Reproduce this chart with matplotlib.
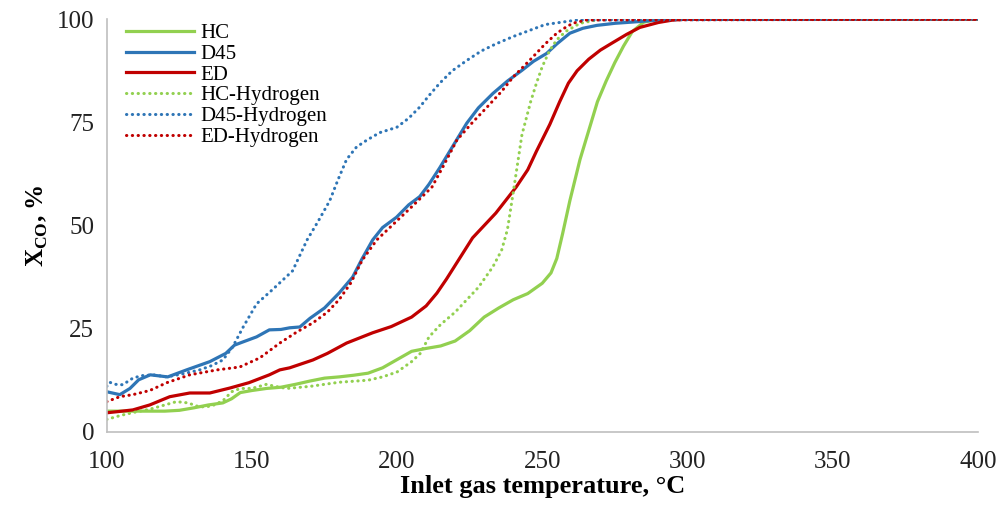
import matplotlib
matplotlib.use("Agg")
import matplotlib.pyplot as plt

plt.rcParams["font.family"] = ["Liberation Serif", "DejaVu Serif"]
plt.rcParams["mathtext.fontset"] = "custom"
plt.rcParams["mathtext.rm"] = "Liberation Serif"
plt.rcParams["mathtext.bf"] = "Liberation Serif:bold"

# ─── Data ────────────────────────────────────────────
hc_x = [100, 105, 110, 115, 120, 125, 130, 135, 140, 143, 146, 150, 155, 160, 165, 170, 175,
        180, 185, 190, 195, 200, 205, 210, 215, 220, 225, 230, 235, 240, 245, 250, 253, 255,
        257, 259.5, 263, 266, 269, 272, 275, 278, 281, 285, 290, 300, 400]
hc_y = [5, 5, 5, 5, 5, 5.2, 5.8, 6.5, 7, 8, 9.5, 10, 10.5, 10.8, 11.5, 12.3, 13,
        13.3, 13.7, 14.2, 15.5, 17.5, 19.5, 20.2, 20.8, 22, 24.5, 27.8, 30, 32, 33.5, 36, 38.5, 42,
        48, 56, 66, 73, 80, 85, 89.5, 93.5, 97, 99.3, 100, 100, 100]

d45_x = [100, 104.5, 108, 111, 115, 121, 127.5, 135.5, 141, 144, 147, 151.6, 156, 160, 163,
         166.5, 170, 175, 180, 184.7, 188, 191.6, 195, 199.8, 204, 207.8, 211, 214.7, 219, 224,
         228, 233, 238, 243, 247, 251.5, 255, 259.5, 264, 268.8, 275, 281, 290, 300, 400]
d45_y = [9.7, 9, 10.5, 12.6, 13.8, 13.3, 15, 17, 19, 21, 21.8, 23, 24.7, 24.8, 25.2,
         25.4, 27.5, 30, 33.6, 37.5, 42, 46.5, 49.5, 52, 55, 57, 60, 64, 69, 74.8,
         78.5, 82, 85, 87.6, 89.8, 91.7, 94, 96.6, 97.8, 98.5, 99, 99.3, 99.8, 100, 100]

ed_x = [100, 104, 109, 114.8, 121.7, 128.6, 135.5, 142.4, 149, 156, 159.6, 163, 171, 176,
        182.6, 191.6, 198, 205, 210, 213.7, 217, 220.6, 226, 234, 241, 245, 248, 252.6, 256,
        259, 262, 266, 270, 274, 279, 283.6, 290, 295, 300, 400]
ed_y = [4.6, 4.9, 5.3, 6.5, 8.5, 9.4, 9.4, 10.6, 11.9, 13.8, 15, 15.5, 17.4, 19,
        21.5, 24, 25.5, 27.8, 30.5, 33.6, 37, 41, 47, 53, 59.3, 63.5, 68, 74.5, 80,
        84.5, 87.5, 90.3, 92.5, 94.2, 96.3, 98, 99.2, 99.8, 100, 100]

hc_h_x = [100, 105, 110, 115, 120, 124, 128, 132, 136, 140, 143, 146, 150, 155, 158, 162, 170,
          180, 190, 195, 200, 205, 208, 211, 215, 220, 224, 228, 233, 236, 238, 240, 243, 246,
          248, 250, 252.6, 255, 258, 263, 270, 400]
hc_h_y = [3, 4, 4.8, 5.5, 6.5, 7.3, 7, 6, 6.2, 7.5, 9.7, 10.5, 10.5, 11.5, 11, 10.5, 11,
          12, 12.5, 13.3, 14.5, 17, 19, 23, 26, 29, 32, 35, 40, 44, 49, 58, 72, 80,
          84.5, 88.5, 92.5, 95, 97, 99, 100, 100]

d45_h_x = [100, 101, 103, 105.5, 109, 112, 116, 120.7, 126, 132, 136, 140, 143.4, 147, 151.6,
           157, 164, 169, 172.8, 176.8, 179.6, 182.6, 186, 189.6, 194, 199.9, 204, 207.8, 211,
           214.7, 219, 224, 229, 234, 240, 245.7, 251, 257, 262, 400]
d45_h_y = [11, 12, 11.5, 11.4, 13, 13.6, 13.8, 13.3, 14, 15, 16, 17.4, 20.6, 25.4, 31,
           34.4, 39, 46.5, 51, 56, 61, 66, 69, 70.7, 72.5, 73.8, 76, 78.7, 81.5,
           84.5, 87.5, 90, 92.3, 94, 95.8, 97.3, 98.7, 99.3, 99.8, 100]

ed_h_x = [100, 104.5, 109, 114.8, 120.7, 128.6, 138, 145.8, 152.7, 159.6, 165.5, 171, 176, 180,
          184, 188, 193, 199, 205, 212, 216, 220.6, 226, 231, 236, 240, 243.5, 246.7, 251, 255,
          258, 260.5, 265, 400]
ed_h_y = [7.3, 8.5, 9, 10, 11.9, 13.8, 15, 15.7, 17.9, 21.5, 24.2, 26.4, 29, 32,
          36, 41.6, 46.5, 50.5, 54.5, 59.3, 64.5, 70.7, 75, 78.7, 82.5, 86, 88.5, 90.8, 94, 96.6,
          98, 99, 99.8, 100]

GREEN = "#92D050"
BLUE = "#2E75B6"
RED = "#C00000"
DOT = (0, (0.1, 1.8))

fig = plt.figure(figsize=(10.07, 5.05), dpi=100)
ax = fig.add_axes([0.106, 0.145, 0.865, 0.817])

ax.plot(hc_x, hc_y, color=GREEN, lw=2.3, label="HC")
ax.plot(d45_x, d45_y, color=BLUE, lw=2.3, label="D45")
ax.plot(ed_x, ed_y, color=RED, lw=2.3, label="ED")
ax.plot(hc_h_x, hc_h_y, color=GREEN, lw=2.2, ls=DOT, dash_capstyle="round", label="HC-Hydrogen")
ax.plot(d45_h_x, d45_h_y, color=BLUE, lw=2.2, ls=DOT, dash_capstyle="round", label="D45-Hydrogen")
ax.plot(ed_h_x, ed_h_y, color=RED, lw=2.2, ls=DOT, dash_capstyle="round", label="ED-Hydrogen")

ax.set_xlim(100, 400)
ax.set_ylim(0, 100)
ax.set_xticks(range(100, 401, 50))
ax.set_yticks([0, 25, 50, 75, 100])
ax.tick_params(length=0, labelsize=18, colors="#222222")
ax.tick_params(axis="x", pad=14)
ax.tick_params(axis="y", pad=9)

for side in ("top", "right"):
    ax.spines[side].set_visible(False)
for side in ("left", "bottom"):
    ax.spines[side].set_color("#BFBFBF")
    ax.spines[side].set_linewidth(1.2)

ax.set_xlabel("Inlet gas temperature, °C", fontsize=19, fontweight="bold", labelpad=1)
ax.set_ylabel(r"$\mathbf{X}_{\mathbf{CO}}$, %", fontsize=18, fontweight="bold", labelpad=5)

ax.legend(loc="upper left", frameon=False, fontsize=15, handlelength=3.3,
          handletextpad=0.3, labelspacing=0.06, borderaxespad=0.0,
          bbox_to_anchor=(0.012, 1.01))

fig.savefig("out.png", dpi=100, facecolor="white")
